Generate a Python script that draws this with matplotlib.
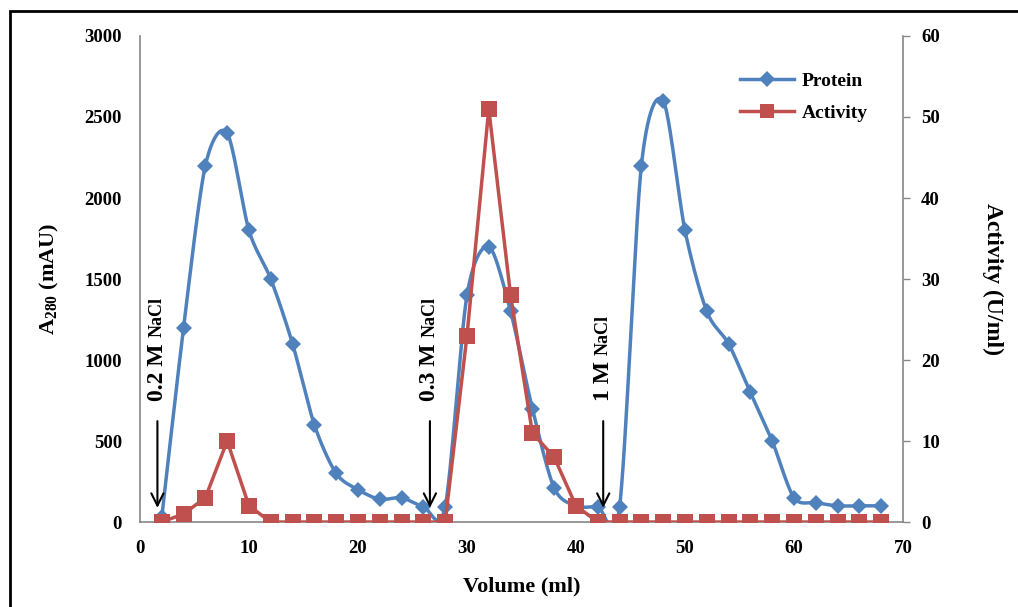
import numpy as np
import matplotlib
matplotlib.use("Agg")
import matplotlib.pyplot as plt
from matplotlib.lines import Line2D
from matplotlib.patches import Rectangle
from matplotlib.font_manager import FontProperties

plt.rcParams["mathtext.fontset"] = "custom"
plt.rcParams["mathtext.bf"] = "Liberation Serif:bold"
plt.rcParams["mathtext.rm"] = "Liberation Serif"

# Fraction volumes (ml)
volume = [2, 4, 6, 8, 10, 12, 14, 16, 18, 20, 22, 24, 26, 28, 30, 32, 34,
          36, 38, 40, 42, 44, 46, 48, 50, 52, 54, 56, 58, 60, 62, 64, 66, 68]
# Absorbance at 280 nm (mAU)
protein = [30, 1200, 2200, 2400, 1800, 1500, 1100, 600, 300, 200, 140, 150,
           95, 95, 1400, 1700, 1300, 700, 210, 100, 95, 95, 2200, 2600, 1800,
           1300, 1100, 800, 500, 150, 120, 100, 100, 100]
# Enzyme activity (U/ml)
activity = [0, 1, 3, 10, 2, 0, 0, 0, 0, 0, 0, 0, 0, 0, 23, 51, 28, 11, 8, 2,
            0, 0, 0, 0, 0, 0, 0, 0, 0, 0, 0, 0, 0, 0]

# Salt step gradient markers: (volume, label)
steps = [(1.6, "0.2 M"), (26.6, "0.3 M"), (42.5, "1 M")]

BLUE = "#4F81BD"
RED = "#C0504D"
GRAY = "#868686"
SERIF = "Liberation Serif"


def smooth(x, y, k=1 / 7, n=24):
    """Cardinal Bezier smoothing of a polyline (spreadsheet-style curve)."""
    x = np.asarray(x, float)
    y = np.asarray(y, float)
    px = np.concatenate([[x[0]], x, [x[-1]]])
    py = np.concatenate([[y[0]], y, [y[-1]]])
    xs, ys = [], []
    t = np.linspace(0, 1, n, endpoint=False)[:, None]
    for i in range(len(x) - 1):
        p0 = np.array([px[i], py[i]])
        p1 = np.array([px[i + 1], py[i + 1]])
        p2 = np.array([px[i + 2], py[i + 2]])
        p3 = np.array([px[i + 3], py[i + 3]])
        c1 = p1 + (p2 - p0) * k
        c2 = p2 - (p3 - p1) * k
        b = (1 - t) ** 3 * p1 + 3 * (1 - t) ** 2 * t * c1 \
            + 3 * (1 - t) * t ** 2 * c2 + t ** 3 * p2
        xs.append(b[:, 0])
        ys.append(b[:, 1])
    xs.append([x[-1]])
    ys.append([y[-1]])
    return np.concatenate(xs), np.concatenate(ys)


fig = plt.figure(figsize=(10.18, 6.07), dpi=100)
ax = fig.add_axes([0.1375, 0.14, 0.7495, 0.8007])
ax2 = ax.twinx()

# Protein trace (smoothed line + markers)
sx, sy = smooth(volume, protein)
ax.plot(sx, sy, color=BLUE, lw=2.5, solid_capstyle="round", zorder=2)
ax.plot(volume, protein, ls="none", marker="D", ms=8, color=BLUE,
        markeredgewidth=0, zorder=3)

# Activity trace
ax2.plot(volume, activity, color=RED, lw=2.5, marker="s", ms=11,
         markeredgewidth=0, zorder=3)

ax.set_xlim(0, 70)
ax.set_ylim(0, 3000)
ax2.set_ylim(0, 60)
ax.set_xticks(range(0, 71, 10))
ax.set_yticks(range(0, 3001, 500))
ax2.set_yticks(range(0, 61, 10))

tick_fp = FontProperties(family=SERIF, weight="bold", size=13.5)
for lab in ax.get_xticklabels() + ax.get_yticklabels() + ax2.get_yticklabels():
    lab.set_fontproperties(tick_fp)

ax.tick_params(axis="x", length=0, pad=13)
ax.tick_params(axis="y", length=0, pad=13)
ax2.tick_params(axis="y", length=5, width=1, color=GRAY, pad=8, direction="out")

for a in (ax, ax2):
    a.spines["top"].set_visible(False)
    for s in ("left", "bottom", "right"):
        a.spines[s].set_color(GRAY)
        a.spines[s].set_linewidth(1.2)
ax.spines["right"].set_visible(False)
ax2.spines["left"].set_visible(False)
ax2.spines["bottom"].set_visible(False)

ax.set_xlabel("Volume (ml)", family=SERIF, weight="bold", size=16)
ax.set_ylabel(r"A$_{\mathbf{280}}$ (mAU)", family=SERIF, weight="bold", size=16)
ax2.set_ylabel("Activity (U/ml)", family=SERIF, weight="bold", size=17,
               rotation=270, va="bottom")
ax.xaxis.set_label_coords(0.5, -0.112)
ax.yaxis.set_label_coords(-0.104, 0.5)
ax2.yaxis.set_label_coords(1.103, 0.5)

# Salt step arrows and labels
for xv, conc in steps:
    ax.annotate("", xy=(xv, 70), xytext=(xv, 640),
                arrowprops=dict(arrowstyle="->", color="black", lw=1.5,
                                mutation_scale=22), zorder=4)
    t1 = ax.text(xv, 750, conc + " ", rotation=90, ha="center", va="bottom",
                 family=SERIF, weight="bold", size=17, zorder=4)
    ax.annotate("NaCl", xy=(0.5, 1.0), xycoords=t1, rotation=90,
                ha="center", va="bottom", family=SERIF, weight="bold",
                size=13, zorder=4)

# Legend
handles = [
    Line2D([], [], color=BLUE, lw=2.5, marker="D", ms=8, markeredgewidth=0),
    Line2D([], [], color=RED, lw=2.5, marker="s", ms=10, markeredgewidth=0),
]
ax2.legend(handles, ["Protein", "Activity"], loc="upper left",
           bbox_to_anchor=(0.786, 0.925), frameon=False,
           prop=dict(family=SERIF, weight="bold", size=14),
           borderpad=0, borderaxespad=0,
           handlelength=2.8, labelspacing=0.75, handletextpad=0.4)

# Outer frame
fig.patches.append(Rectangle((10 / 1018, -0.05), 1.1, 1 - 11 / 607 + 0.05,
                             transform=fig.transFigure, fill=False,
                             edgecolor="black", lw=2, zorder=10))

fig.savefig("out.png", dpi=100)
